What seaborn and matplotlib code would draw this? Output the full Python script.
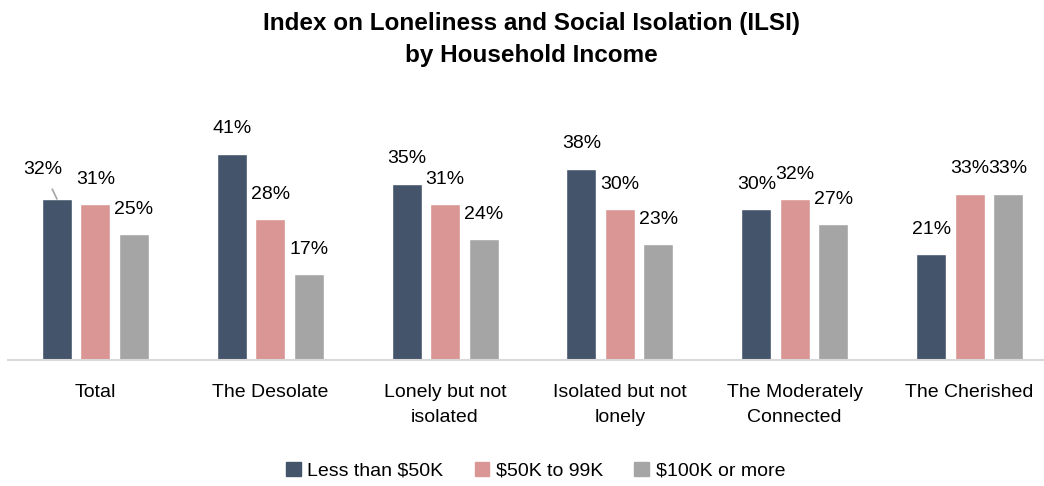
import matplotlib
matplotlib.use("Agg")
import matplotlib.pyplot as plt
import seaborn as sns
import pandas as pd

categories = ["Total", "The Desolate", "Lonely but not\nisolated", "Isolated but not\nlonely",
              "The Moderately\nConnected", "The Cherished"]
series_names = ["Less than $50K", "$50K to 99K", "$100K or more"]
less_50k = [32, 41, 35, 38, 30, 21]
k50_99 = [31, 28, 31, 30, 32, 33]
k100_plus = [25, 17, 24, 23, 27, 33]
colors = ["#44546A", "#D99694", "#A5A5A5"]

sns.set_theme(style="white")
plt.rcParams["font.family"] = ["Liberation Sans", "DejaVu Sans"]
plt.rcParams["text.color"] = "black"
plt.rcParams["xtick.color"] = "black"

rows = []
for name, vals in zip(series_names, [less_50k, k50_99, k100_plus]):
    for c, v in zip(categories, vals):
        rows.append({"category": c, "series": name, "value": v})
df = pd.DataFrame(rows)

fig = plt.figure(figsize=(10.44, 4.86), dpi=100)
ax = fig.add_axes([8 / 1044, 126 / 486, 1049 / 1044, 226.4 / 486])

sns.barplot(data=df, x="category", y="value", hue="series", order=categories,
            hue_order=series_names, palette=colors, width=0.66, gap=0.22,
            saturation=1, ax=ax, legend=True)

ax.set_ylim(0, 45)
ax.set_xlim(-0.5, 5.5)
ax.set_xlabel("")
ax.set_ylabel("")
ax.set_yticks([])
for s in ["top", "left", "right"]:
    ax.spines[s].set_visible(False)
ax.spines["bottom"].set_color("#D9D9D9")
ax.spines["bottom"].set_linewidth(1.5)
ax.tick_params(axis="x", length=0, pad=17, labelsize=14, colors="black")
for lbl in ax.get_xticklabels():
    lbl.set_linespacing(1.65)

for ci, cont in enumerate(ax.containers):
    for bi, bar in enumerate(cont):
        h = bar.get_height()
        x = bar.get_x() + bar.get_width() / 2
        if ci == 0 and bi == 0:
            ax.annotate(f"{h:.0f}%", xy=(x, h), xytext=(-10, 21), textcoords="offset points",
                        ha="center", va="center", fontsize=14, color="black",
                        arrowprops=dict(arrowstyle="-", color="#A5A5A5", lw=1.2,
                                        shrinkA=6, shrinkB=0))
        else:
            ax.annotate(f"{h:.0f}%", xy=(x, h), xytext=(0, 18), textcoords="offset points",
                        ha="center", va="center", fontsize=14, color="black")

ax.get_legend().remove()
handles = [plt.Rectangle((0, 0), 1, 1, color=c) for c in colors]
fig.legend(handles, series_names, loc="center", bbox_to_anchor=(0.513, 0.031), ncol=3,
           frameon=False, fontsize=14, handlelength=0.75, handleheight=0.75,
           handletextpad=0.35, columnspacing=1.6, labelcolor="black")

fig.text(0.509, 1 - 39.5 / 486, "Index on Loneliness and Social Isolation (ILSI)\nby Household Income",
         ha="center", va="center", fontsize=17.5, fontweight="bold", linespacing=1.55,
         color="black")

fig.savefig("out.png", dpi=100)
